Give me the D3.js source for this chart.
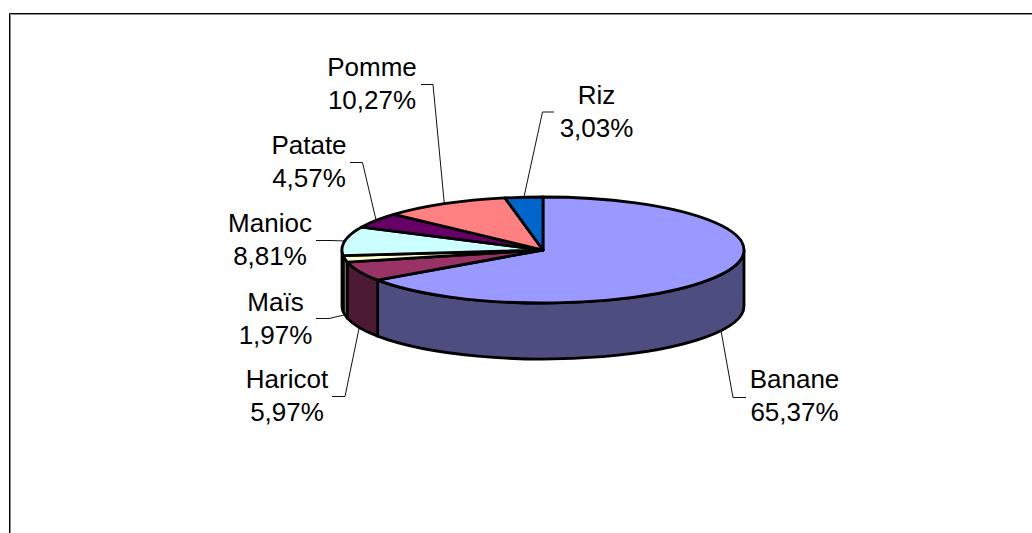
<!DOCTYPE html>
<html lang="fr">
<head>
    <meta charset="UTF-8">
    <title>Pie chart</title>
    <script src="https://d3js.org/d3.v7.min.js"></script>
    <style>
        html, body { margin: 0; padding: 0; background: #fff; overflow: hidden; }
        svg { display: block; }
    </style>
</head>
<body>
    <div id="chart"></div>

    <script>
        const categories = ["Banane", "Haricot", "Maïs", "Manioc", "Patate", "Pomme", "Riz"];
        const percents = [65.37, 5.97, 1.97, 8.81, 4.57, 10.27, 3.03];
        const valueLabels = ["65,37%", "5,97%", "1,97%", "8,81%", "4,57%", "10,27%", "3,03%"];
        const topColors = ["#9999ff", "#993366", "#ffffcc", "#ccffff", "#660066", "#ff8080", "#0066cc"];
        const sideColors = ["#4d4d80", "#4d1a33", "#808066", "#668080", "#330033", "#804040", "#003366"];

        // label placement, one per slice: text centre x, first baseline y, elbow x,y, leader end x
        const labelPlaces = [
            [794.5, 388, 733, 397.5, 746],
            [287, 388, 345, 396.5, 332],
            [275.5, 311, 329, 318.5, 316],
            [270, 232, 330, 240.5, 316],
            [309, 154, 362.5, 162.5, 350],
            [372, 76, 433, 84.5, 421],
            [596.5, 104, 542.5, 112, 554]
        ];

        const width = 1032;
        const height = 533;
        const cx = 543;
        const cy = 250;
        const rx = 201;
        const ry = 53;
        const depth = 56;

        const svg = d3.select("#chart").append("svg")
            .attr("width", width)
            .attr("height", height);

        // frame runs off the right and bottom of the picture, with a grey edge inside
        svg.append("path")
            .attr("d", "M10.5," + height + "V14.5H" + width)
            .attr("fill", "none")
            .attr("stroke", "#8c8c8c");
        svg.append("path")
            .attr("d", "M9.5," + height + "V13.5H" + width)
            .attr("fill", "none")
            .attr("stroke", "#000");

        const pie = d3.pie().sort(null).value((d) => d)
            .startAngle(0).endAngle(2 * Math.PI);
        const slices = pie(percents);

        const arc = d3.arc().innerRadius(0).outerRadius(rx);

        const edgeX = (a) => cx + rx * Math.sin(a);
        const edgeY = (a) => cy - ry * Math.cos(a);

        // outer wall of a slice, only the part facing the viewer
        function wallPath(d) {
            const a0 = Math.max(d.startAngle, Math.PI / 2);
            const a1 = Math.min(d.endAngle, 3 * Math.PI / 2);
            if (a1 <= a0) return null;
            const big = a1 - a0 > Math.PI ? 1 : 0;
            return "M" + edgeX(a0) + "," + edgeY(a0)
                + "A" + rx + "," + ry + " 0 " + big + " 1 " + edgeX(a1) + "," + edgeY(a1)
                + "L" + edgeX(a1) + "," + (edgeY(a1) + depth)
                + "A" + rx + "," + ry + " 0 " + big + " 0 " + edgeX(a0) + "," + (edgeY(a0) + depth)
                + "Z";
        }

        // leaders go under the pie
        const leaders = svg.append("g");
        slices.forEach((d, i) => {
            const mid = (d.startAngle + d.endAngle) / 2;
            const front = Math.cos(mid) < 0 && Math.abs(Math.sin(mid)) < 0.99;
            const place = labelPlaces[i];
            const line = d3.line();
            leaders.append("path")
                .attr("d", line([
                    [edgeX(mid), edgeY(mid) + (front ? depth : 0)],
                    [place[2], place[3]],
                    [place[4], place[3]]
                ]))
                .attr("fill", "none")
                .attr("stroke", "#111")
                .attr("stroke-width", 1);
        });

        svg.append("g").selectAll("path")
            .data(slices)
            .enter()
            .append("path")
            .attr("d", wallPath)
            .attr("fill", (d, i) => sideColors[i])
            .attr("stroke", "#000")
            .attr("stroke-width", 2.8)
            .attr("stroke-linejoin", "round");

        // d3.arc gives a circle, squash it into the tilted top
        svg.append("g")
            .attr("transform", "translate(" + cx + "," + cy + ") scale(1," + ry / rx + ")")
            .selectAll("path")
            .data(slices)
            .enter()
            .append("path")
            .attr("d", arc)
            .attr("fill", (d, i) => topColors[i])
            .attr("stroke", "#000")
            .attr("stroke-width", 2.8)
            .attr("stroke-linejoin", "round")
            .attr("vector-effect", "non-scaling-stroke");

        const labels = svg.append("g")
            .attr("font-family", "'Liberation Sans', Arial, sans-serif")
            .attr("font-size", 26)
            .attr("fill", "#000")
            .attr("text-anchor", "middle");

        categories.forEach((name, i) => {
            const place = labelPlaces[i];
            labels.append("text").attr("x", place[0]).attr("y", place[1]).text(name);
            labels.append("text").attr("x", place[0]).attr("y", place[1] + 33).text(valueLabels[i]);
        });
    </script>
</body>
</html>
